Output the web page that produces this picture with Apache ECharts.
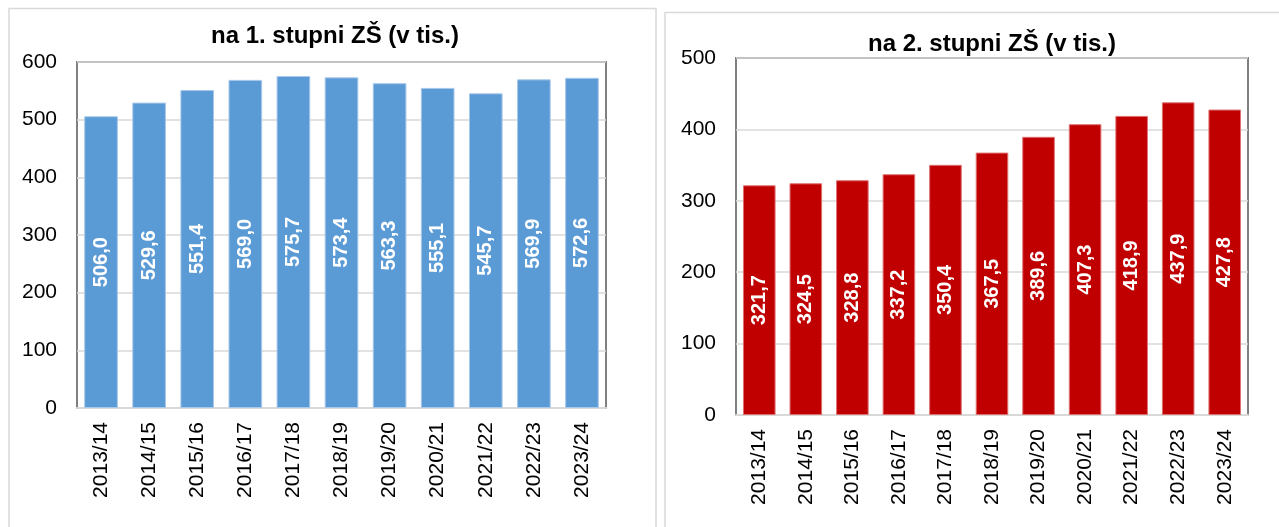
<!DOCTYPE html>
<html><head><meta charset="utf-8">
<script src="https://cdn.jsdelivr.net/npm/echarts@6/dist/echarts.min.js"></script>
<style>html,body{margin:0;padding:0;background:#fff}#c{width:1279px;height:527px}</style>
</head><body><div id="c"></div>
<script>
const categories = ['2013/14','2014/15','2015/16','2016/17','2017/18','2018/19','2019/20','2020/21','2021/22','2022/23','2023/24'];
const stage1Values = [506.0,529.6,551.4,569.0,575.7,573.4,563.3,555.1,545.7,569.9,572.6];
const stage2Values = [321.7,324.5,328.8,337.2,350.4,367.5,389.6,407.3,418.9,437.9,427.8];
const title1 = 'na 1. stupni ZŠ (v tis.)';
const title2 = 'na 2. stupni ZŠ (v tis.)';

const FONT = "'Liberation Sans', Arial, sans-serif";
const chart = echarts.init(document.getElementById('c'), null, {renderer:'canvas'});
const fmt = p => p.value.toFixed(1).replace('.', ',');

function xAx(i){
  return {type:'category', gridIndex:i, data:categories,
    axisLine:{show:true, lineStyle:{color:'#d9d9d9', width:2}},
    axisTick:{show:false},
    axisLabel:{rotate:90, color:'#000', fontSize:21, fontFamily:FONT, margin:14, interval:0}};
}
function yAx(i,max){
  return {type:'value', gridIndex:i, min:0, max:max, interval:100,
    axisLine:{show:false}, axisTick:{show:false},
    splitLine:{lineStyle:{color:'#d9d9d9', width:1.5}},
    axisLabel:{color:'#000', fontSize:21, fontFamily:FONT, margin:20}};
}
function ser(i,data,color,border){
  return {type:'bar', xAxisIndex:i, yAxisIndex:i, data:data, barWidth:'70%',
    itemStyle:{color:color, borderColor:border, borderWidth:1},
    label:{show:true, position:'inside', rotate:90, color:'#fff', fontWeight:'bold',
      fontSize:20, fontFamily:FONT, formatter:fmt}};
}

chart.setOption({
  animation:false,
  title:[
    {text:title1, left:330, top:19, textAlign:'center', textStyle:{fontSize:24, fontWeight:'bold', color:'#000', fontFamily:FONT}},
    {text:title2, left:987, top:27, textAlign:'center', textStyle:{fontSize:24, fontWeight:'bold', color:'#000', fontFamily:FONT}}
  ],
  grid:[
    {left:77, top:62, width:529, height:346, show:true, borderColor:'#808080', borderWidth:2, backgroundColor:'transparent'},
    {left:736, top:58, width:512, height:357, show:true, borderColor:'#808080', borderWidth:2, backgroundColor:'transparent'}
  ],
  xAxis:[xAx(0), xAx(1)],
  yAxis:[yAx(0,600), yAx(1,500)],
  series:[ser(0,stage1Values,'#5B9BD5','#a9c8ea'), ser(1,stage2Values,'#C00000','#e07070')],
  graphic:[
    {type:'rect', shape:{x:9, y:8.5, width:647, height:540}, style:{fill:null, stroke:'#d9d9d9', lineWidth:1.5}, silent:true},
    {type:'rect', shape:{x:665, y:12.5, width:700, height:540}, style:{fill:null, stroke:'#d9d9d9', lineWidth:1.5}, silent:true}
  ]
});
</script></body></html>
